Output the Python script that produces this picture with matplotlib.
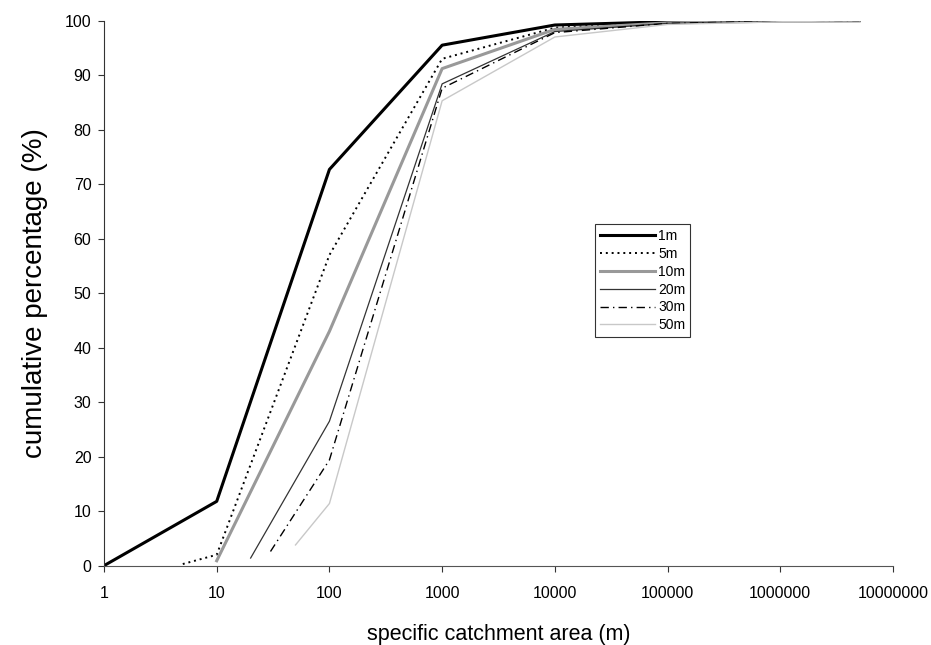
import matplotlib.pyplot as plt

plt.rcParams['font.family'] = ['Liberation Sans', 'DejaVu Sans']

# cumulative percentage of cells by specific catchment area, per DEM resolution
x_1m = [1, 10, 100, 1000, 10000, 100000, 1000000, 5000000]
y_1m = [0, 11.8, 72.7, 95.5, 99.2, 99.8, 100, 100]
x_5m = [5, 10, 100, 1000, 10000, 100000, 1000000, 5000000]
y_5m = [0.3, 2.0, 57.0, 93.0, 98.7, 99.7, 100, 100]
x_10m = [10, 100, 1000, 10000, 100000, 1000000, 5000000]
y_10m = [0.9, 43.0, 91.2, 98.4, 99.6, 99.9, 100]
x_20m = [20, 100, 1000, 10000, 100000, 1000000, 5000000]
y_20m = [1.4, 26.5, 88.4, 98.0, 99.5, 99.9, 100]
x_30m = [30, 100, 1000, 10000, 100000, 1000000, 5000000]
y_30m = [2.6, 19.4, 87.6, 97.8, 99.5, 99.9, 100]
x_50m = [50, 100, 1000, 10000, 100000, 1000000, 5000000]
y_50m = [3.8, 11.4, 85.3, 97.0, 99.3, 99.8, 100]

fig = plt.figure(figsize=(9.31, 6.45), dpi=100)
ax = fig.add_axes([0.1117, 0.123, 0.8475, 0.845])

ax.plot(x_1m, y_1m, color='black', lw=2.2, label='1m')
ax.plot(x_5m, y_5m, color='black', lw=1.4, linestyle=(0, (1, 2)), label='5m')
ax.plot(x_10m, y_10m, color='#999999', lw=2.2, label='10m')
ax.plot(x_20m, y_20m, color='#333333', lw=0.9, label='20m')
ax.plot(x_30m, y_30m, color='black', lw=1.0, linestyle=(0, (6, 3, 1, 3)), label='30m')
ax.plot(x_50m, y_50m, color='#c8c8c8', lw=1.0, label='50m')

ax.set_xscale('log')
ax.set_xlim(1, 1e7)
ax.set_ylim(0, 100)
ax.set_xticks([1, 10, 100, 1000, 10000, 100000, 1000000, 10000000])
ax.set_xticklabels(['1', '10', '100', '1000', '10000', '100000', '1000000', '10000000'])
ax.minorticks_off()
ax.set_yticks(range(0, 101, 10))

for s in ['top', 'right']:
    ax.spines[s].set_visible(False)
ax.spines['left'].set_color('#333333')
ax.spines['bottom'].set_color('#555555')
ax.tick_params(axis='both', labelsize=11.5, length=4, color='#333333')
ax.tick_params(axis='x', pad=11)
ax.tick_params(axis='y', pad=5)

ax.set_xlabel('specific catchment area (m)', fontsize=15.5, labelpad=16)
ax.set_ylabel('cumulative percentage (%)', fontsize=20, labelpad=12)

leg = ax.legend(loc='upper left', bbox_to_anchor=(595 / 931, 1 - 224 / 645),
                bbox_transform=fig.transFigure, fontsize=10, frameon=True,
                fancybox=False, edgecolor='black', handlelength=4.0,
                handletextpad=0.2, borderpad=0.35, labelspacing=0.28,
                borderaxespad=0)
leg.get_frame().set_linewidth(0.8)

plt.savefig('out.png', dpi=100)
